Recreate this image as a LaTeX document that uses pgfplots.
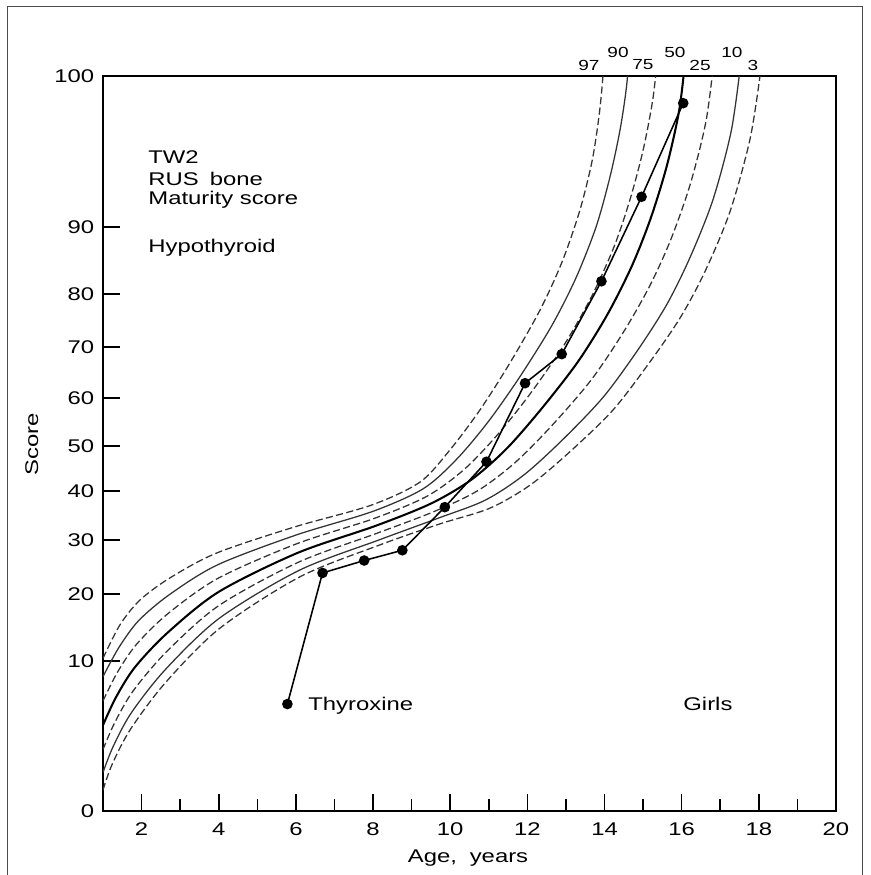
\documentclass[border=0pt]{standalone}
\usepackage{fontspec}
\setmainfont{Liberation Sans}[FakeStretch=1.3]
\usepackage{pgfplots}
\pgfplotsset{compat=1.18}

% the score axis of the chart is not linear: map score -> axis units
% (piecewise linear, one slope per 10 points, read off the tick spacing)
\pgfplotsset{scorescale/.style={
  y coord trafo/.code={\pgfmathparse{15*min(##1,10)+6.7*min(max(##1-10,0),10)+5.4*min(max(##1-20,0),10)+4.9*min(max(##1-30,0),10)+4.5*min(max(##1-40,0),10)+4.8*min(max(##1-50,0),10)+5.1*min(max(##1-60,0),10)+5.3*min(max(##1-70,0),10)+6.7*min(max(##1-80,0),10)+15.1*max(##1-90,0)}},
}}

\newcommand{\txt}{\fontsize{9.4}{11}\selectfont}
\newcommand{\pct}{\fontsize{7.5}{9}\selectfont}

\begin{document}
\begin{tikzpicture}
\path[use as bounding box] (-18.54mm,-11.52mm) rectangle (138.06mm,145.98mm);
% scan frame
\draw[black!70, line width=0.5pt] (-17.28mm,-14mm) -- (-17.28mm,144.9mm) -- (136.62mm,144.9mm) -- (136.62mm,-14mm);
\begin{axis}[
  at={(0,0)}, anchor=south west,
  scale only axis,
  width=131.94mm, height=132.3mm,
  scorescale,
  xmin=1, xmax=20, ymin=0, ymax=100,
  xtick={2,4,...,20},
  minor xtick={3,5,...,19},
  ytick={0,10,20,30,40,50,60,70,80,90,100},
  yticklabels={0,10,20,30,40,50,60,70,80,90,100},
  tick align=inside, tick pos=left,
  major tick length=3mm, minor tick length=2.2mm,
  every tick/.style={black, line width=0.8pt},
  axis line style={line width=0.9pt},
  tick label style={font=\txt},
  xticklabel style={yshift=-0.9mm},
  yticklabel style={xshift=-0.35mm},
  /pgf/number format/assume math mode=true,
  xlabel={Age,\hspace{0.7em}years}, ylabel={Score},
  xlabel style={at={(axis description cs:0.498,-0.064)}, anchor=center, font=\txt},
  ylabel style={at={(axis description cs:-0.097,0.499)}, anchor=center, font=\txt},
  clip mode=individual,
  pcurve/.style={black!80, line width=0.65pt, smooth},
  dashedcurve/.style={pcurve, dash pattern=on 1.3mm off 0.6mm},
]
% 97th
\addplot[dashedcurve] table {
1.00 10.4
1.44 15.4
1.96 19.1
2.74 23.0
3.95 27.6
5.98 32.7
7.95 37.1
9.22 42.0
9.99 49.1
10.77 57.5
11.55 66.9
12.33 77.0
12.90 84.8
13.36 91.1
13.68 94.4
13.86 97.4
13.96 100.0
14.04 103.0
};
% 90th
\addplot[pcurve] table {
1.00 8.96
1.41 12.0
1.92 16.0
2.72 19.9
3.97 25.4
6.00 31.0
7.98 35.8
9.30 40.5
10.16 47.0
10.98 55.0
11.80 64.1
12.63 74.0
13.26 82.4
13.78 90.0
14.14 93.3
14.40 96.4
14.57 99.3
14.68 102.6
};
% 75th
\addplot[dashedcurve] table {
1.00 7.34
1.37 9.23
1.87 12.5
2.69 17.1
3.98 22.9
6.02 29.3
8.03 34.4
9.39 38.9
10.35 44.7
11.21 52.2
12.08 60.9
12.97 70.6
13.67 79.6
14.25 87.1
14.67 91.9
15.01 95.2
15.26 98.6
15.40 102.0
};
% 50th
\addplot[black, line width=1.05pt, smooth] table {
1.00 5.72
1.33 7.55
1.82 9.56
2.67 14.2
4.00 20.4
6.04 27.6
8.07 32.9
9.49 37.4
10.53 42.4
11.45 49.3
12.36 57.7
13.31 67.1
14.08 76.2
14.71 84.2
15.20 90.6
15.62 94.1
15.94 97.8
16.11 101.5
};
% 25th
\addplot[dashedcurve] table {
1.00 4.10
1.30 5.87
1.78 8.00
2.65 11.4
4.01 18.3
6.07 25.9
8.11 31.4
9.58 35.8
10.72 40.1
11.68 46.3
12.64 54.3
13.65 63.5
14.49 72.8
15.18 81.3
15.73 88.3
16.23 92.9
16.63 97.0
16.83 100.9
};
% 10th
\addplot[pcurve] table {
1.00 2.57
1.26 4.28
1.73 6.53
2.62 9.44
4.02 16.4
6.09 24.4
8.15 30.0
9.67 34.4
10.90 38.1
11.90 43.5
12.90 51.2
13.97 60.2
14.88 69.6
15.62 78.1
16.22 85.5
16.81 91.8
17.28 96.3
17.51 100.4
};
% 3rd
\addplot[dashedcurve] table {
1.00 1.40
1.23 3.07
1.70 5.40
2.61 8.53
4.03 14.9
6.11 23.2
8.18 29.1
9.74 33.3
11.03 36.5
12.07 41.3
13.10 48.7
14.22 57.5
15.18 67.1
15.96 75.5
16.60 83.3
17.25 91.0
17.77 95.8
18.03 100.0
};
% the patient
\addplot[black, line width=0.8pt, mark=*, mark size=2.3pt] table {
5.78 7.13
6.69 23.9
7.77 26.2
8.76 28.1
9.86 36.7
10.94 46.5
11.94 62.9
12.89 68.6
13.92 81.9
14.96 92.0
16.04 98.2
};

\node[anchor=west, inner sep=0, font=\txt] at (rel axis cs:0.0614,0.8898) {TW2};
\node[anchor=west, inner sep=0, font=\txt] at (rel axis cs:0.0614,0.8599) {RUS\hspace{0.6em}bone};
\node[anchor=west, inner sep=0, font=\txt] at (rel axis cs:0.0614,0.8313) {Maturity score};
\node[anchor=west, inner sep=0, font=\txt] at (rel axis cs:0.0614,0.7660) {Hypothyroid};
\node[anchor=west, inner sep=0, font=\txt] at (rel axis cs:0.2797,0.1429) {Thyroxine};
\node[anchor=west, inner sep=0, font=\txt] at (rel axis cs:0.7913,0.1456) {Girls};

\node[inner sep=0, font=\pct] at (rel axis cs:0.6630,1.0150) {97};
\node[inner sep=0, font=\pct] at (rel axis cs:0.7026,1.0327) {90};
\node[inner sep=0, font=\pct] at (rel axis cs:0.7367,1.0150) {75};
\node[inner sep=0, font=\pct] at (rel axis cs:0.7803,1.0327) {50};
\node[inner sep=0, font=\pct] at (rel axis cs:0.8145,1.0150) {25};
\node[inner sep=0, font=\pct] at (rel axis cs:0.8581,1.0327) {10};
\node[inner sep=0, font=\pct] at (rel axis cs:0.8868,1.0150) {3};
\end{axis}
\end{tikzpicture}
\end{document}
